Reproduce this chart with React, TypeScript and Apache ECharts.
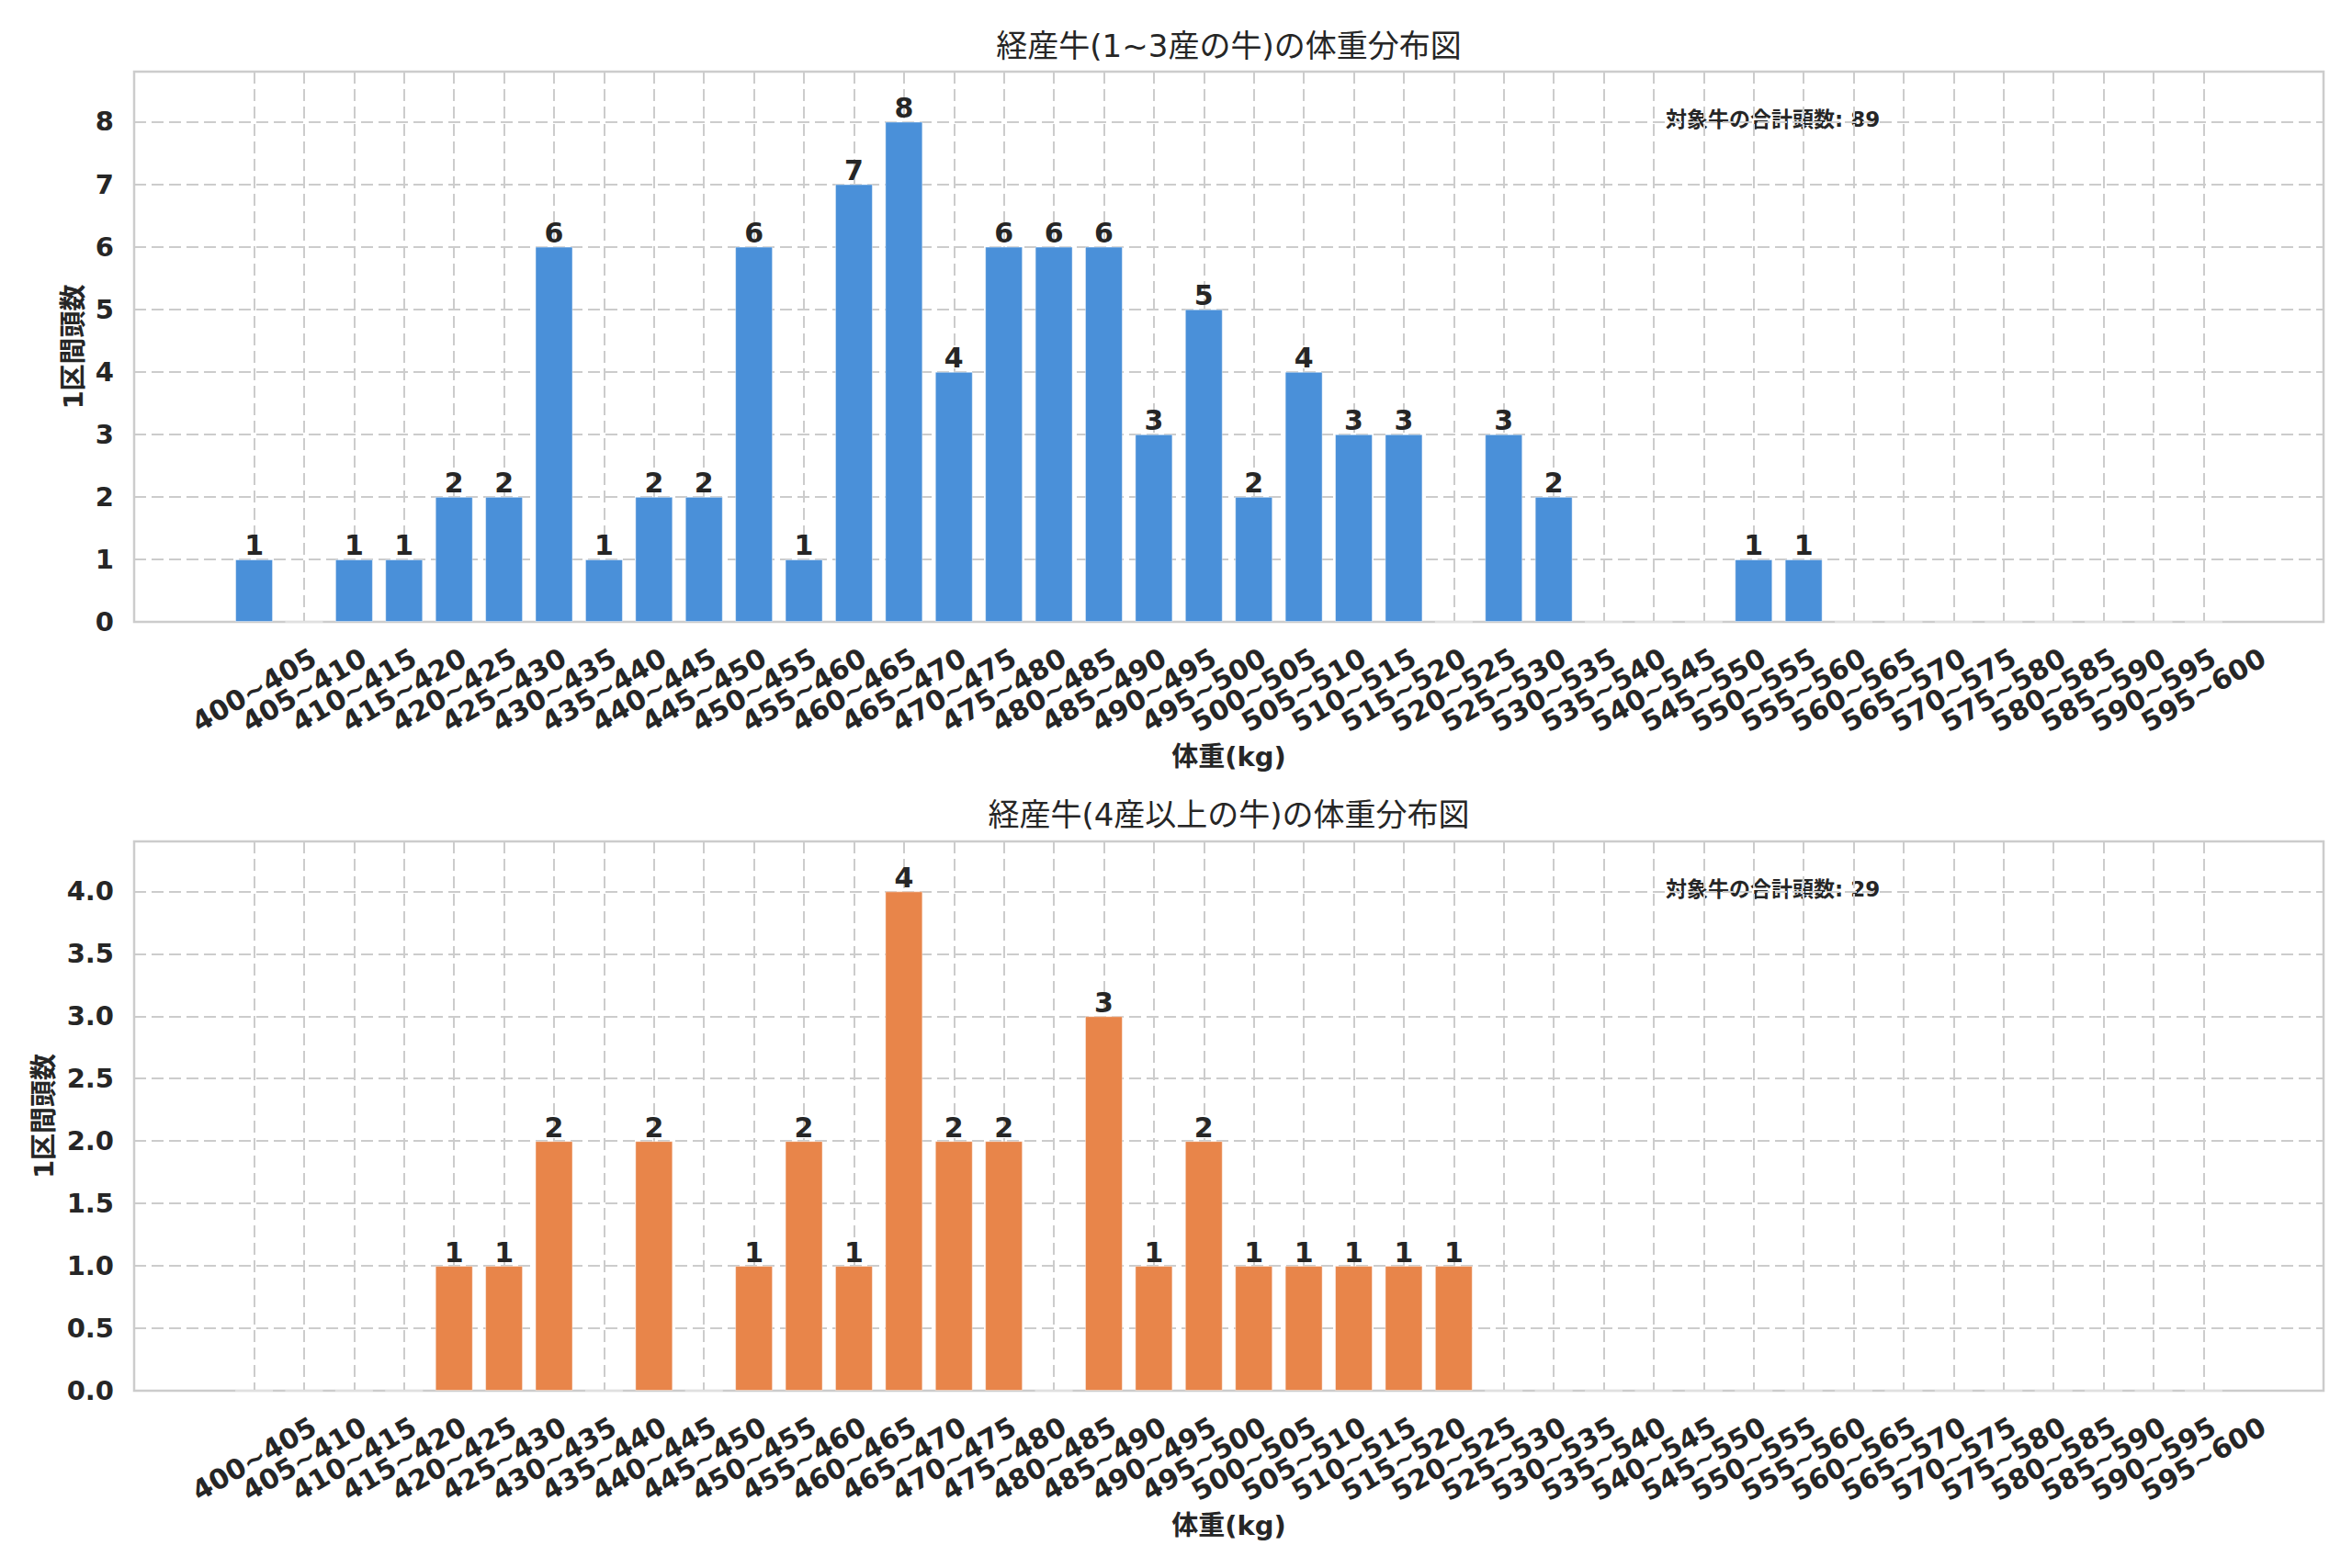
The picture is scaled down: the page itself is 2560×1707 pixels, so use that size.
import React, { useEffect, useRef } from "react";
import * as echarts from "echarts";

// ---- data ----
const categories = [
  "400~405", "405~410", "410~415", "415~420", "420~425", "425~430", "430~435", "435~440",
  "440~445", "445~450", "450~455", "455~460", "460~465", "465~470", "470~475", "475~480",
  "480~485", "485~490", "490~495", "495~500", "500~505", "505~510", "510~515", "515~520",
  "520~525", "525~530", "530~535", "535~540", "540~545", "545~550", "550~555", "555~560",
  "560~565", "565~570", "570~575", "575~580", "580~585", "585~590", "590~595", "595~600",
];
const parity1to3Counts = [
  1, 0, 1, 1, 2, 2, 6, 1, 2, 2, 6, 1, 7, 8, 4, 6, 6, 6, 3, 5,
  2, 4, 3, 3, 0, 3, 2, 0, 0, 0, 1, 1, 0, 0, 0, 0, 0, 0, 0, 0,
];
const parity4plusCounts = [
  0, 0, 0, 0, 1, 1, 2, 0, 2, 0, 1, 2, 1, 4, 2, 2, 0, 3, 1, 2,
  1, 1, 1, 1, 1, 0, 0, 0, 0, 0, 0, 0, 0, 0, 0, 0, 0, 0, 0, 0,
];
const panelTitles = ["経産牛(1~3産の牛)の体重分布図", "経産牛(4産以上の牛)の体重分布図"];
const totalLabels = ["対象牛の合計頭数: 89", "対象牛の合計頭数: 29"];
const xAxisName = "体重(kg)";
const yAxisName = "1区間頭数";
const yMaxes = [8.8, 4.4];
const yIntervals = [1, 0.5];
const yDecimals = [0, 1];
const barColors = ["#4A90D9", "#E8854A"];

// ---- layout ----
const W = 2560;
const H = 1707;
const AX_L = 146;
const AX_R = 2529;
const XMIN = -2.4;
const XMAX = 41.4;
const STEP = (AX_R - AX_L) / (XMAX - XMIN);
const IN_L = AX_L + (0 - XMIN) * STEP;
const IN_R = AX_L + (categories.length - 1 - XMIN) * STEP;
const panels = [
  { top: 78, bottom: 677, yNameX: 80 },
  { top: 916, bottom: 1514, yNameX: 48 },
];
const FONT = '"DejaVu Sans", "Noto Sans CJK JP", sans-serif';
const TXT = "#262626";
const GRIDC = "#cccccc";

function buildOption() {
  const grid: any[] = [];
  const xAxis: any[] = [];
  const yAxis: any[] = [];
  const series: any[] = [];
  const graphic: any[] = [];
  const dataSets = [parity1to3Counts, parity4plusCounts];

  panels.forEach((p, k) => {
    const h = p.bottom - p.top;
    grid.push({
      left: AX_L, top: p.top, width: AX_R - AX_L, height: h,
      show: true, borderColor: GRIDC, borderWidth: 2.5, backgroundColor: "transparent",
    });
    grid.push({ left: IN_L, top: p.top, width: IN_R - IN_L, height: h, show: false });
    const og = k * 2;
    const ig = k * 2 + 1;
    xAxis.push({ gridIndex: og, type: "value", min: XMIN, max: XMAX, show: false });
    xAxis.push({
      gridIndex: ig, type: "category", data: categories, boundaryGap: false,
      axisLine: { show: false }, axisTick: { show: false },
      splitLine: { show: true, interval: 0, lineStyle: { color: GRIDC, width: 2, type: [13, 6] } },
      axisLabel: {
        interval: 0, rotate: 30, align: "center", verticalAlign: "middle", margin: 74,
        fontFamily: FONT, fontSize: 30, fontWeight: "bold", color: TXT,
      },
    });
    const dec = yDecimals[k];
    yAxis.push({
      gridIndex: og, type: "value", min: 0, max: yMaxes[k], interval: yIntervals[k],
      axisLine: { show: false }, axisTick: { show: false },
      splitLine: { show: true, lineStyle: { color: GRIDC, width: 2, type: [13, 6] } },
      axisLabel: {
        showMaxLabel: false, margin: 22, fontFamily: FONT, fontSize: 29, fontWeight: "bold", color: TXT,
        formatter: (v: number) => v.toFixed(dec),
      },
    });
    yAxis.push({ gridIndex: ig, type: "value", min: 0, max: 1, show: false });

    series.push({
      type: "bar", xAxisIndex: og, yAxisIndex: og, barWidth: 41, z: 3,
      data: dataSets[k].map((v, i) => [i, v]),
      itemStyle: { color: barColors[k], borderColor: "rgba(255,255,255,0.45)", borderWidth: 1 },
      label: {
        show: true, position: "top", distance: 0, fontFamily: FONT, fontSize: 30, fontWeight: "bold", color: TXT,
        formatter: (pp: any) => (pp.value[1] > 0 ? String(pp.value[1]) : ""),
      },
    });

    const cx = (AX_L + AX_R) / 2;
    const titleY = k === 0 ? 50 : 887;
    graphic.push({
      type: "text", x: cx, y: titleY,
      style: { text: panelTitles[k], fontFamily: FONT, fontSize: 34, fontWeight: "normal", fill: TXT,
        align: "center", verticalAlign: "middle", textAlign: "center", textVerticalAlign: "middle" },
    });
    graphic.push({
      type: "text", x: cx, y: p.bottom + 147,
      style: { text: xAxisName, fontFamily: FONT, fontSize: 29, fontWeight: "bold", fill: TXT,
        align: "center", verticalAlign: "middle", textAlign: "center", textVerticalAlign: "middle" },
    });
    graphic.push({
      type: "text", x: p.yNameX, y: (p.top + p.bottom) / 2, rotation: Math.PI / 2,
      style: { text: yAxisName, fontFamily: FONT, fontSize: 29, fontWeight: "bold", fill: TXT,
        align: "center", verticalAlign: "middle", textAlign: "center", textVerticalAlign: "middle" },
    });
    graphic.push({
      type: "text", x: 1813, y: p.top + 52,
      style: { text: totalLabels[k], fontFamily: FONT, fontSize: 23, fontWeight: "bold", fill: TXT,
        align: "left", verticalAlign: "middle", textAlign: "left", textVerticalAlign: "middle" },
    });
  });

  return {
    animation: false,
    backgroundColor: "#ffffff",
    grid, xAxis, yAxis, series, graphic,
  };
}

export default function App() {
  const ref = useRef<HTMLDivElement>(null);
  useEffect(() => {
    document.body.style.margin = "0";
    if (!ref.current) return;
    const chart = echarts.init(ref.current, undefined, { renderer: "svg" });
    chart.setOption(buildOption() as any);
    return () => chart.dispose();
  }, []);
  return <div ref={ref} style={{ width: W, height: H }} />;
}
